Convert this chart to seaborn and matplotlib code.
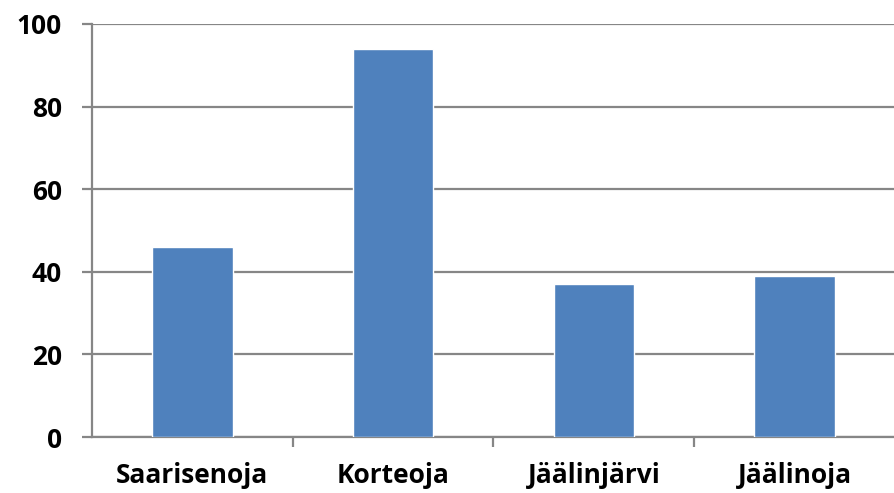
import matplotlib
matplotlib.use("Agg")
import matplotlib.pyplot as plt
import seaborn as sns
import pandas as pd
from matplotlib.ticker import FixedLocator

sns.set_style("white")
plt.rcParams["font.family"] = ["Open Sans", "DejaVu Sans"]

# === Data ===
places = ["Saarisenoja", "Korteoja", "Jäälinjärvi", "Jäälinoja"]
values = [46, 94, 37, 39]
df = pd.DataFrame({"place": places, "value": values})

bar_color = "#4F81BD"
grid_color = "#868686"

fig = plt.figure(figsize=(8.95, 4.93), dpi=100)
ax = fig.add_axes([92 / 895, 1 - 437 / 493, 1 - 92 / 895, (437 - 24) / 493])

sns.barplot(data=df, x="place", y="value", color=bar_color, width=0.4,
            saturation=1, ax=ax, zorder=3)

ax.set_ylim(0, 100)
ax.set_xlim(-0.5, len(places) - 0.5)
ax.set_yticks(range(0, 101, 20))
ax.yaxis.grid(True, color=grid_color, linewidth=1.6, zorder=0)
ax.set_axisbelow(True)
ax.set_xlabel("")
ax.set_ylabel("")

# separator ticks between categories
ax.xaxis.set_minor_locator(FixedLocator([i + 0.5 for i in range(len(places) - 1)]))
ax.tick_params(axis="x", which="minor", length=7, width=1.6, color=grid_color, direction="out", bottom=True)
ax.tick_params(axis="x", which="major", length=0, pad=18, labelsize=19, labelcolor="black")
ax.tick_params(axis="y", which="major", length=7.5, width=1.6, color=grid_color, direction="out", left=True,
               pad=14, labelsize=19, labelcolor="black")

for lbl in ax.get_xticklabels() + ax.get_yticklabels():
    lbl.set_fontweight("bold")

for side in ["top", "right"]:
    ax.spines[side].set_visible(False)
for side in ["left", "bottom"]:
    ax.spines[side].set_color(grid_color)
    ax.spines[side].set_linewidth(1.6)

fig.savefig("out.png", dpi=100)
